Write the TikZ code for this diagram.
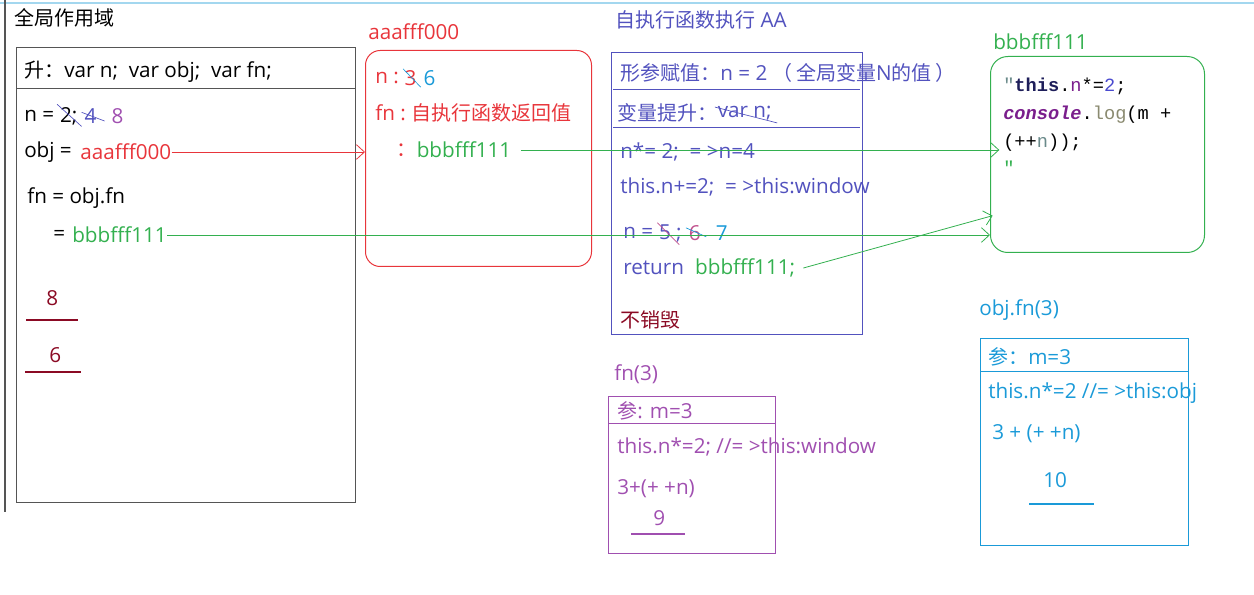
\documentclass[tikz,border=0pt]{standalone}
\usepackage{fontspec}
\setmainfont{Open Sans}
\newfontfamily\cjk{Noto Sans CJK SC}
\newfontfamily\codefont{Liberation Mono}
\usepackage{xcolor}
\usepackage{tikz}
\usetikzlibrary{positioning, arrows.meta}
\definecolor{heapRed}{HTML}{E8353B}
\definecolor{heapGreen}{HTML}{33B04F}
\definecolor{ctxBlue}{HTML}{5252BE}
\definecolor{callPurple}{HTML}{A04FB0}
\definecolor{callCyan}{HTML}{1A9AD8}
\definecolor{resultRed}{HTML}{8B0A24}
\definecolor{frameGray}{HTML}{555555}
\definecolor{strikePink}{HTML}{C0508C}
\definecolor{codeNavy}{HTML}{1E1E5A}
\definecolor{codePurple}{HTML}{7A1E8C}
\definecolor{codeBlue}{HTML}{4A4ACF}
\definecolor{codeOlive}{HTML}{8A8A70}
\definecolor{codeGray}{HTML}{6A8A8A}
\newcommand{\zh}[1]{{\cjk\fontsize{15}{17}\selectfont #1}}

\begin{document}
\begin{tikzpicture}[x=0.75pt, y=-0.75pt,
    txt/.style={anchor=west, inner sep=0pt, font=\fontsize{15.5}{17}\selectfont},
    code/.style={anchor=west, inner sep=0pt, font=\codefont\fontsize{14}{16}\selectfont},
    frame/.style={draw, anchor=north west, inner sep=0pt, line width=0.75pt},
    ptr/.style={-{Straight Barb[length=6pt,width=11pt]}, line width=0.6pt},
    strike/.style={line width=0.5pt},
    result/.style={line width=2.2pt}]
    \useasboundingbox (0,0) rectangle (1254,595);
    \draw[callCyan!40, line width=1pt] (0,3) -- (1254,3);
    \draw[frameGray, line width=0.9pt] (5,0) -- (5,512);

    % global scope
    \node[txt] (globalTitle) at (14,18) {\zh{全局作用域}};
    \node[frame, draw=frameGray, minimum width=254.25pt, minimum height=341.25pt] (globalBox) at (16,47) {};
    \draw[frameGray, line width=0.75pt] (globalBox.west |- 0,89) -- (globalBox.east |- 0,89);
    \node[txt] (gHoist) at (24,72) {\zh{升：}var n;\ \ var obj;\ \ var fn;};
    \node[txt] (gN) at (24,116) {n =};
    \node[txt, right=4pt of gN] (gNTwo) {2;};
    \node[txt, ctxBlue, right=5pt of gNTwo] (gNFour) {4};
    \node[txt, callPurple, right=11pt of gNFour] (gNEight) {8};
    \draw[strike, ctxBlue] ([xshift=-2pt,yshift=2pt]gNTwo.north west) -- ([xshift=3pt,yshift=-1pt]gNTwo.south east);
    \draw[strike, ctxBlue] ([xshift=-2pt,yshift=-3pt]gNFour.north west) -- ([xshift=6pt,yshift=2pt]gNFour.south east);
    \node[txt] (gObj) at (24,152) {obj =};
    \node[txt, heapRed, right=6pt of gObj] (gObjRef) {aaafff000};
    \node[txt] (gFn) at (27,198) {fn = obj.fn};
    \node[txt] (gFnEq) at (53,235) {=};
    \node[txt, heapGreen, right=5pt of gFnEq] (gFnRef) {bbbfff111};
    \node[txt, resultRed] (gEight) at (46,298) {8};
    \draw[result, resultRed] (26,320) -- (78,320);
    \node[txt, resultRed] (gSix) at (49,355) {6};
    \draw[result, resultRed] (25,372) -- (81,372);

    % heap aaafff000
    \node[txt, heapRed] (heapATitle) at (368,32) {aaafff000};
    \node[frame, draw=heapRed, rounded corners=11pt, minimum width=169.5pt, minimum height=162pt] (heapA) at (365,50) {};
    \node[txt, heapRed] (aN) at (375,78) {n :};
    \node[txt, heapRed, right=4pt of aN] (aNThree) {3};
    \node[txt, callCyan, right=5pt of aNThree] (aNSix) {6};
    \draw[strike, callCyan] ([xshift=-1pt,yshift=1pt]aNThree.north west) -- ([xshift=3pt,yshift=-1pt]aNThree.south east);
    \node[txt, heapRed] (aFn) at (375,113) {fn :\ \zh{自执行函数返回值}};
    \node[txt, heapRed] (aColon) at (396,150) {\zh{：}};
    \node[txt, heapGreen, right=0pt of aColon] (aFnRef) {bbbfff111};

    % execution context AA
    \node[txt, ctxBlue] (ctxTitle) at (615,20) {\zh{自执行函数执行} AA};
    \node[frame, draw=ctxBlue, minimum width=188.25pt, minimum height=211.5pt] (ctxBox) at (611,52) {};
    \draw[ctxBlue, line width=0.75pt] (613,90) -- (860,90);
    \draw[ctxBlue, line width=0.75pt] (613,128) -- (860,128);
    \node[txt, ctxBlue] (ctxArg) at (620,73) {\zh{形参赋值：}n = 2 \zh{（}\,\zh{全局变量}N\zh{的值}\,\zh{）}};
    \node[txt, ctxBlue] (ctxHoist) at (617,113) {\zh{变量提升：}};
    \node[txt, ctxBlue, right=0pt of ctxHoist] (ctxHoistVar) {var n;};
    \draw[strike, ctxBlue] ([xshift=-2pt,yshift=-1pt]ctxHoistVar.north west) -- ([xshift=4pt,yshift=-2pt]ctxHoistVar.south east);
    \node[txt, ctxBlue] (ctxMul) at (620,152) {n*= 2;\ \ = >n=4};
    \node[txt, ctxBlue] (ctxThis) at (620,187) {this.n+=2;\ \ = >this:window};
    \node[txt, ctxBlue] (ctxN) at (623,233) {n =};
    \node[txt, ctxBlue, right=4pt of ctxN] (ctxNFive) {5 ;};
    \node[txt, strikePink, right=5pt of ctxNFive] (ctxNSix) {6};
    \node[txt, callCyan, right=11pt of ctxNSix] (ctxNSeven) {7};
    \draw[strike, strikePink] ([xshift=-1pt,yshift=1pt]ctxNFive.north west) -- ([xshift=-2pt,yshift=-2pt]ctxNFive.south east);
    \draw[strike, callCyan] ([xshift=-2pt,yshift=-2pt]ctxNSix.north west) -- ([xshift=4pt,yshift=3pt]ctxNSix.south east);
    \node[txt, ctxBlue] (ctxReturn) at (623,268) {return};
    \node[txt, heapGreen, right=8pt of ctxReturn] (ctxRetRef) {bbbfff111;};
    \node[txt, resultRed] (ctxKeep) at (620,320) {\zh{不销毁}};

    % heap bbbfff111
    \node[txt, heapGreen] (heapBTitle) at (993,42) {bbbfff111};
    \node[frame, draw=heapGreen, rounded corners=13pt, minimum width=160.5pt, minimum height=147pt] (heapB) at (990,56) {};
    \node[code] (codeOne) at (1003,86) {\textcolor{codeGray}{"}\textbf{\textcolor{codeNavy}{this}}.\textcolor{codePurple}{n}*=\textcolor{codeBlue}{2};};
    \node[code] (codeTwo) at (1003,115) {\textit{\textbf{\textcolor{codePurple}{console}}}.\textcolor{codeOlive}{log}(m +};
    \node[code] (codeThree) at (1003,143) {(++\textcolor{codeGray}{n}));};
    \node[code, heapGreen] (codeFour) at (1003,168) {"};

    % call fn(3)
    \node[txt, callPurple] (fnTitle) at (614,374) {fn(3)};
    \node[frame, draw=callPurple, minimum width=125.25pt, minimum height=117.75pt] (fnBox) at (608,396) {};
    \draw[callPurple, line width=0.75pt] (fnBox.west |- 0,424) -- (fnBox.east |- 0,424);
    \node[txt, callPurple] (fnArg) at (617,411) {\zh{参}: m=3};
    \node[txt, callPurple] (fnThis) at (617,447) {this.n*=2; //= >this:window};
    \node[txt, callPurple] (fnSum) at (617,489) {3+(+ +n)};
    \node[txt, callPurple] (fnNine) at (653,518) {9};
    \draw[result, callPurple] (631,534) -- (685,534);

    % call obj.fn(3)
    \node[txt, callCyan] (objTitle) at (979,310) {obj.fn(3)};
    \node[frame, draw=callCyan, minimum width=156pt, minimum height=155.25pt] (objBox) at (980,338) {};
    \draw[callCyan, line width=0.75pt] (objBox.west |- 0,372) -- (objBox.east |- 0,372);
    \node[txt, callCyan] (objArg) at (988,357) {\zh{参：}m=3};
    \node[txt, callCyan] (objThis) at (988,393) {this.n*=2 //= >this:obj};
    \node[txt, callCyan] (objSum) at (992,434) {3 + (+ +n)};
    \node[txt, callCyan] (objTen) at (1043,480) {10};
    \draw[result, callCyan] (1029,504) -- (1094,504);

    % references
    \draw[ptr, heapRed] (gObjRef.east) -- (gObjRef.east -| heapA.west);
    \draw[ptr, heapGreen] ([xshift=7pt]aFnRef.east) -- ([xshift=7pt]aFnRef.east -| heapB.west);
    \draw[ptr, heapGreen] (gFnRef.east) -- (gFnRef.east -| heapB.west);
    \coordinate (heapBIn) at ([xshift=2pt,yshift=28pt]heapB.south west);
    \draw[ptr, heapGreen] ([xshift=6pt]ctxRetRef.east) -- (heapBIn);
\end{tikzpicture}
\end{document}
